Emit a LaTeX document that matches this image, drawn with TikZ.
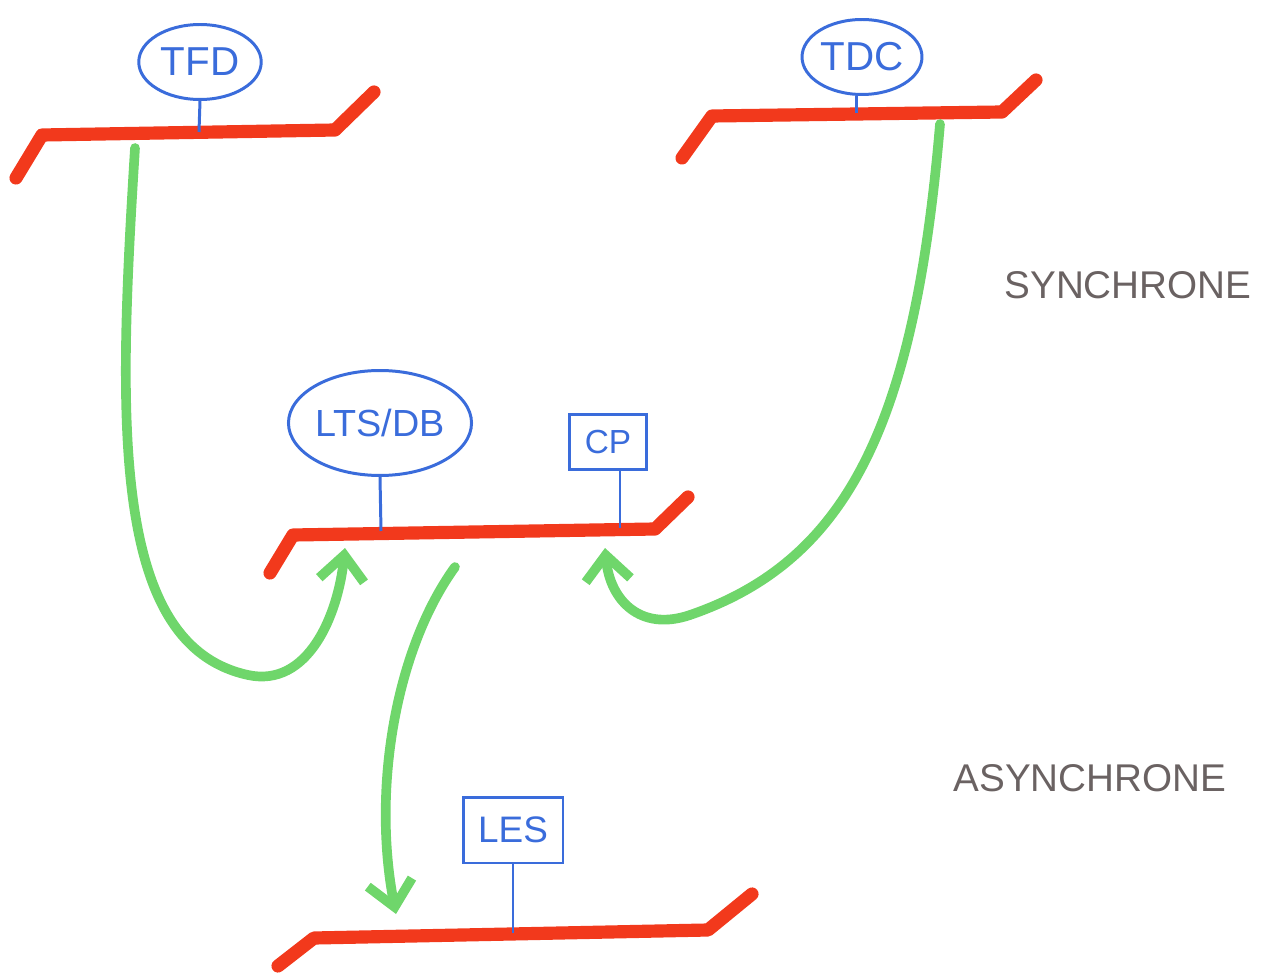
\documentclass[tikz,border=0pt]{standalone}
\usepackage{fontspec}
\setmainfont{Liberation Sans}
\usetikzlibrary{arrows.meta,shapes.geometric}
\definecolor{busred}{HTML}{F2391C}
\definecolor{penblue}{HTML}{3A6CDB}
\definecolor{pengreen}{HTML}{6FD66B}
\definecolor{pengray}{HTML}{6A6262}
\tikzset{
  bus/.style={draw=busred,line width=7.5pt,line cap=round,line join=round},
  stem/.style={draw=penblue,line width=1.7pt},
  oval/.style={ellipse,draw=penblue,line width=1.7pt,text=penblue,inner sep=0pt,font=\fontsize{23}{25}\selectfont},
  tag/.style={rectangle,draw=penblue,line width=1.7pt,text=penblue,inner sep=0pt,font=\fontsize{19}{21}\selectfont},
  flow/.style={draw=pengreen,line width=5.5pt,line cap=round,-{Straight Barb[length=5mm,width=9mm,line width=5.5pt]}},
  zone/.style={text=pengray,font=\fontsize{22}{24}\selectfont}
}
\begin{document}
\begin{tikzpicture}[x=0.02cm,y=-0.02cm]
\useasboundingbox (0,0) rectangle (1275,976);
% buses
\coordinate (b1a) at (16,178); \coordinate (b1b) at (42,135); \coordinate (b1c) at (335,130); \coordinate (b1d) at (374,92);
\coordinate (b2a) at (682,158); \coordinate (b2b) at (712,116); \coordinate (b2c) at (1002,112); \coordinate (b2d) at (1036,80);
\coordinate (b3a) at (270,573); \coordinate (b3b) at (293,535); \coordinate (b3c) at (655,529); \coordinate (b3d) at (688,497);
\coordinate (b4a) at (278,966); \coordinate (b4b) at (314,938); \coordinate (b4c) at (708,930); \coordinate (b4d) at (752,894);
\draw[bus] (b1a) -- (b1b) -- (b1c) -- (b1d);
\draw[bus] (b2a) -- (b2b) -- (b2c) -- (b2d);
\draw[bus] (b3a) -- (b3b) -- (b3c) -- (b3d);
\draw[bus] (b4a) -- (b4b) -- (b4c) -- (b4d);
% nodes
\node[oval,minimum width=2.45cm,minimum height=1.5cm] (tfd) at (200,62) {TFD};
\node[oval,minimum width=2.4cm,minimum height=1.5cm] (tdc) at (862,57) {TDC};
\node[oval,minimum width=3.55cm,minimum height=2.1cm,font=\fontsize{21.5}{23}\selectfont] (lts) at (380,423) {LTS/DB};
\node[tag,minimum width=1.55cm,minimum height=1.1cm] (cp) at (608,442) {CP};
\node[tag,minimum width=2cm,minimum height=1.32cm,font=\fontsize{21}{23}\selectfont] (les) at (513,830) {LES};
% stems
\coordinate (s1) at (199,132); \coordinate (s2) at (856,113);
\coordinate (s3) at (381,531); \coordinate (s4) at (620,528); \coordinate (s5) at (513,933);
\draw[stem] (tfd.south) -- (s1);
\draw[stem] (tdc.south -| s2) -- (s2);
\draw[stem] (lts.south) -- (s3);
\draw[stem] (cp.south -| s4) -- (s4);
\draw[stem] (les.south) -- (s5);
% green flows
\coordinate (g1s) at (135,148); \coordinate (g1e) at (345,548);
\coordinate (g2s) at (940,124); \coordinate (g2e) at (605,548);
\coordinate (g3s) at (455,567); \coordinate (g3e) at (396,914);
\draw[flow] (g1s) .. controls (118,420) and (110,645) .. (248,675) .. controls (308,688) and (338,615) .. (g1e);
\draw[flow] (g2s) .. controls (915,420) and (850,560) .. (690,615) .. controls (640,632) and (610,600) .. (g2e);
\draw[flow] (g3s) .. controls (395,650) and (372,790) .. (g3e);
% zone labels
\node[zone] (sync) at (1128,285) {SYNCHRONE};
\node[zone] (async) at (1090,778) {ASYNCHRONE};
\end{tikzpicture}
\end{document}
